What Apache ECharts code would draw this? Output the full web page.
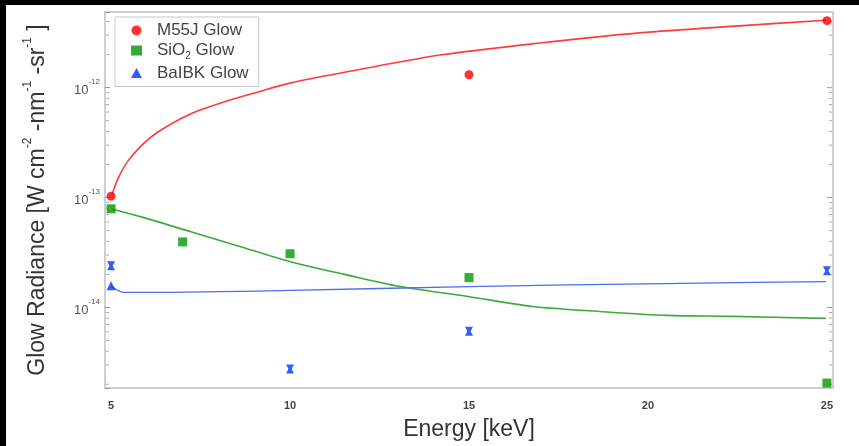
<!DOCTYPE html>
<html>
<head>
<meta charset="utf-8">
<script src="https://cdn.jsdelivr.net/npm/echarts@6/dist/echarts.min.js"></script>
<style>
  html, body { margin: 0; padding: 0; background: #000; width: 859px; height: 446px; overflow: hidden; }
  #chart { position: absolute; left: 6px; top: 5px; width: 853px; height: 441px; background: #fff; }
</style>
</head>
<body>
<div id="chart"></div>
<script>
// ---- data ----
const xTicks = [5, 10, 15, 20, 25];
const yDecades = [1e-14, 1e-13, 1e-12];

const m55jE = [5, 15, 25];
const m55jV = [1.03e-13, 1.31e-12, 4.07e-12];

const sio2E = [5, 7, 10, 15, 25];
const sio2V = [7.9e-14, 3.95e-14, 3.08e-14, 1.87e-14, 2.05e-15];

const baibkE = [5];
const baibkV = [1.58e-14];

const baibkErrE = [5, 10, 15, 25];
const baibkErrV = [2.4e-14, 2.75e-15, 6.07e-15, 2.16e-14];

const m55jFitE = [5.02, 5.2, 5.45, 5.84, 6.31, 7.23, 8.15, 9.09, 10.0, 11.88, 14.19, 16.98, 19.76, 22.55, 24.97];
const m55jFitV = [1.05e-13, 1.5e-13, 2.1e-13, 2.95e-13, 3.95e-13, 5.8e-13, 7.4e-13, 9.1e-13, 1.1e-12, 1.45e-12, 1.98e-12, 2.55e-12, 3.15e-12, 3.65e-12, 4.1e-12];

const sio2FitE = [5.02, 5.84, 7.23, 8.62, 10.01, 11.55, 13.08, 14.97, 16.78, 18.65, 20.52, 22.35, 24.97];
const sio2FitV = [7.87e-14, 6.67e-14, 4.88e-14, 3.57e-14, 2.61e-14, 1.99e-14, 1.55e-14, 1.26e-14, 1.02e-14, 9.2e-15, 8.47e-15, 8.3e-15, 7.95e-15];

const baibkFitE = [5.02, 5.36, 10.0, 15.0, 20.5, 24.97];
const baibkFitV = [1.55e-14, 1.37e-14, 1.43e-14, 1.55e-14, 1.65e-14, 1.72e-14];

// ---- build ----
const zip = (a, b) => a.map((v, i) => [v, b[i]]);
const FONT = 'Liberation Sans';

// minor tick positions (2..9 x decade) for the log axis
const minorVals = [];
[1e-15, 1e-14, 1e-13, 1e-12].forEach(d => { for (let k = 2; k <= 9; k++) minorVals.push(k * d); });

const isDecade = v => Math.abs(Math.log10(v) - Math.round(Math.log10(v))) < 1e-6;

const chart = echarts.init(document.getElementById('chart'), null, { renderer: 'canvas' });
chart.setOption({
  animation: false,
  backgroundColor: '#fff',
  textStyle: { fontFamily: FONT },
  grid: { left: 99, top: 7, right: 26, bottom: 56, show: true, borderColor: '#cfcfcf', borderWidth: 2, backgroundColor: '#fff' },
  legend: {
    left: 109, top: 12,
    orient: 'vertical',
    data: ['M55J Glow', 'SiO2 Glow', 'BaIBK Glow'],
    backgroundColor: '#fff',
    borderColor: '#c8c8c8', borderWidth: 1, borderRadius: 0,
    padding: [5, 10, 5, 16],
    itemGap: 3, itemWidth: 11, itemHeight: 10,
    textStyle: { fontFamily: FONT, fontSize: 17, color: '#444', padding: [0, 0, 0, 10],
      rich: { sub: { fontSize: 10, color: '#444', verticalAlign: 'bottom', lineHeight: 22, fontFamily: FONT }, b: { fontSize: 17, color: '#444', fontFamily: FONT, lineHeight: 18 } } },
    formatter: n => n === 'SiO2 Glow' ? '{b|SiO}{sub|2}{b| Glow}' : n
  },
  xAxis: {
    type: 'value', min: 4.83, max: 25.17,
    interval: 5,
    axisLine: { show: false },
    axisTick: { show: false },
    splitLine: { show: false },
    axisLabel: {
      margin: 12, fontSize: 11, color: '#444', fontWeight: 'bold', fontFamily: FONT,
      customValues: xTicks
    },
    name: 'Energy [keV]', nameLocation: 'middle', nameGap: 30,
    nameTextStyle: { fontSize: 23, color: '#333', fontFamily: FONT }
  },
  yAxis: {
    type: 'log', min: 1.85e-15, max: 4.88e-12, logBase: 10,
    axisLine: { show: false },
    axisTick: { show: true, inside: true, length: 5, lineStyle: { color: '#999' } },
    splitLine: { show: false },
    axisLabel: {
      margin: 5,
      formatter: v => isDecade(v) ? '{b|10}{s|' + Math.round(Math.log10(v)) + '}' : '',
      rich: {
        b: { fontSize: 13, color: '#555', fontFamily: FONT, lineHeight: 19, verticalAlign: 'bottom' },
        s: { fontSize: 8, color: '#555', fontFamily: FONT, lineHeight: 19, verticalAlign: 'top' }
      }
    },
    name: '{t|Glow Radiance [W cm}{s|-2}{t| -nm}{s|-1}{t| -sr}{s|-1}{t| ]}',
    nameLocation: 'middle', nameGap: 56,
    nameTextStyle: {
      rich: {
        t: { fontSize: 23, color: '#333', fontFamily: FONT, lineHeight: 27, verticalAlign: 'bottom' },
        s: { fontSize: 12, color: '#333', fontFamily: FONT, lineHeight: 27, verticalAlign: 'top' }
      }
    }
  },
  series: [
    {
      type: 'custom', silent: true, z: 1,
      data: minorVals.map(v => [v]),
      renderItem: (params, api) => {
        const v = api.value(0);
        if (v < 1.85e-15 || v > 4.88e-12) return null;
        const y = api.coord([4.83, v])[1];
        const r = params.coordSys;
        return { type: 'group', children: [
          { type: 'line', shape: { x1: r.x + 1, y1: y, x2: r.x + 4, y2: y }, style: { stroke: '#aaa', lineWidth: 1 } },
          { type: 'line', shape: { x1: r.x + r.width - 4, y1: y, x2: r.x + r.width - 1, y2: y }, style: { stroke: '#aaa', lineWidth: 1 } }
        ] };
      },
      encode: { y: 0 }
    },
    {
      type: 'custom', silent: true, z: 1,
      data: yDecades.map(v => [v]),
      renderItem: (params, api) => {
        const y = api.coord([4.83, api.value(0)])[1];
        const r = params.coordSys;
        return { type: 'line', shape: { x1: r.x + r.width - 6, y1: y, x2: r.x + r.width - 1, y2: y }, style: { stroke: '#999', lineWidth: 1 } };
      },
      encode: { y: 0 }
    },
    { name: 'M55J fit', type: 'line', data: zip(m55jFitE, m55jFitV), smooth: 0.3, symbol: 'none', lineStyle: { color: '#ff3b3b', width: 1.6 }, z: 2 },
    { name: 'SiO2 fit', type: 'line', data: zip(sio2FitE, sio2FitV), smooth: 0.3, symbol: 'none', lineStyle: { color: '#3aaa3a', width: 1.6 }, z: 2 },
    { name: 'BaIBK fit', type: 'line', data: zip(baibkFitE, baibkFitV), smooth: 0.3, symbol: 'none', lineStyle: { color: '#4a6ff0', width: 1.3 }, z: 2 },
    { name: 'M55J Glow', type: 'scatter', data: zip(m55jE, m55jV), symbol: 'circle', symbolSize: 9, itemStyle: { color: '#ff0000' }, z: 5 },
    { name: 'SiO2 Glow', type: 'scatter', data: zip(sio2E, sio2V), symbol: 'rect', symbolSize: 9, itemStyle: { color: '#009900' }, z: 5 },
    { name: 'BaIBK Glow', type: 'scatter', data: zip(baibkE, baibkV), symbol: 'triangle', symbolSize: 9, itemStyle: { color: '#0033ff' }, z: 5 },
    { name: 'BaIBK err', type: 'scatter', data: zip(baibkErrE, baibkErrV), symbol: 'path://M0,0 H10 L7,5 L10,10 H0 L3,5 Z', symbolSize: [8, 9], itemStyle: { color: '#0033ff' }, z: 5 }
  ]
});
</script>
</body>
</html>
